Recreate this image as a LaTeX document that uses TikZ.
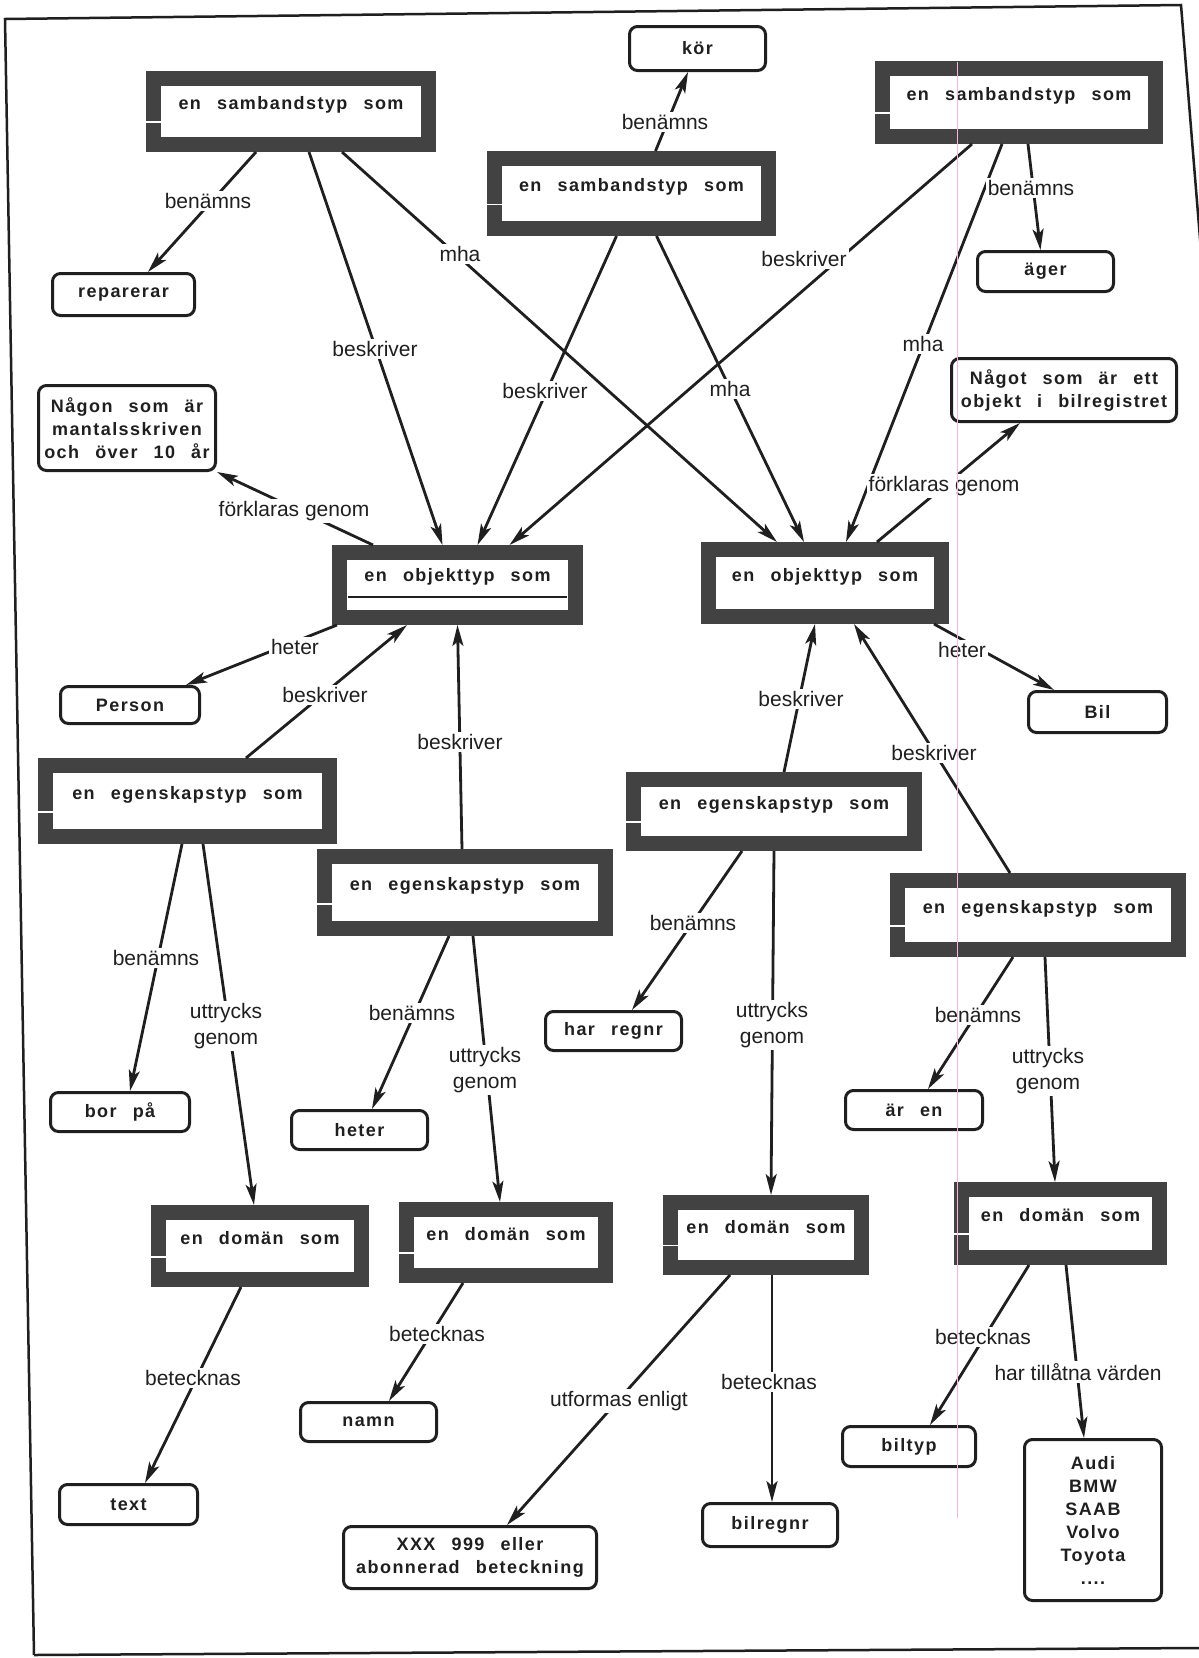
\documentclass[tikz,border=0pt]{standalone}
\usepackage{fontspec}
\setmainfont{Liberation Sans}
\newfontfamily\boxfont[LetterSpace=8,WordSpace=2.5]{Liberation Sans}
\usetikzlibrary{arrows.meta,calc}
\definecolor{framegray}{gray}{0.26}
\definecolor{ink}{gray}{0.12}

\begin{document}
\begin{tikzpicture}[x=1pt,y=-1pt,
  tbox/.style={draw=framegray, line width=15pt, fill=white, inner sep=0pt,
    font=\boxfont\bfseries\fontsize{18}{22}\selectfont, text=ink,
    text height=13pt, text depth=17pt},
  rbox/.style={draw=ink, line width=3pt, rounded corners=8pt, fill=white,
    inner sep=2pt, align=center, text=ink,
    font=\boxfont\bfseries\fontsize{18}{23}\selectfont},
  lbl/.style={fill=white, inner sep=2pt, align=center, text=ink,
    font=\fontsize{21}{26}\selectfont},
  conn/.style={draw=ink, line width=2.8pt},
  arr/.style={-{Stealth[length=21pt,width=11pt,inset=5pt]}}
]
\useasboundingbox (0,0) rectangle (1199,1658);
\fill[white] (0,0) rectangle (1199,1658);

% page frame
\draw[ink, line width=2.5pt] (34,1655) -- (5,19) -- (1181,5) -- (1205,300);
\draw[ink, line width=2.5pt] (34,1655) -- (1199,1648);

% type boxes with heavy frames
\node[tbox, minimum width=275pt, minimum height=66pt] (S1) at (291,111.5) {en sambandstyp som};
\node[tbox, minimum width=274pt, minimum height=70pt] (S2) at (631.5,193.5) {en sambandstyp som};
\node[tbox, minimum width=273pt, minimum height=68pt] (S3) at (1019,102.5) {en sambandstyp som};
\node[tbox, minimum width=236pt, minimum height=65pt, text depth=20pt] (O1) at (457.5,585) {en objekttyp som};
\node[tbox, minimum width=233pt, minimum height=67pt] (O2) at (825,583) {en objekttyp som};
\node[tbox, minimum width=284pt, minimum height=71pt] (E1) at (187.5,801) {en egenskapstyp som};
\node[tbox, minimum width=281pt, minimum height=72pt] (E2) at (465,892.5) {en egenskapstyp som};
\node[tbox, minimum width=281pt, minimum height=64pt] (E3) at (774,811.5) {en egenskapstyp som};
\node[tbox, minimum width=281pt, minimum height=69pt] (E4) at (1038,915) {en egenskapstyp som};
\node[tbox, minimum width=203pt, minimum height=67pt] (D1) at (260,1246) {en domän som};
\node[tbox, minimum width=199pt, minimum height=66pt] (D2) at (506,1242.5) {en domän som};
\node[tbox, minimum width=191pt, minimum height=65pt] (D3) at (766,1235) {en domän som};
\node[tbox, minimum width=198pt, minimum height=68pt] (D4) at (1060.5,1223.5) {en domän som};

% divider inside the left object type box
\draw[ink, line width=1.5pt] ($(O1.west)+(16,12)$) -- ($(O1.east)+(-16,12)$);
% small notches in the left side of the heavy frames
\foreach \n in {S1,S2,S3,E1,E2,E3,E4,D1,D2,D3,D4}
  \draw[white, line width=1.8pt] ($(\n.north west)!0.63!(\n.south west)$) -- ++(15,0);

% value boxes
\node[rbox, minimum width=136pt, minimum height=44pt] (kor) at (697.5,48.5) {kör};
\node[rbox, minimum width=142pt, minimum height=42pt] (rep) at (123.5,294.5) {reparerar};
\node[rbox, minimum width=177pt, minimum height=85pt, inner sep=0pt] (nagon) at (127,428) {Någon som är\\mantalsskriven\\och över 10 år};
\node[rbox, minimum width=136pt, minimum height=40pt] (ager) at (1045.5,271.5) {äger};
\node[rbox, minimum width=225pt, minimum height=63pt] (nagot) at (1064,390) {Något som är ett\\objekt i bilregistret};
\node[rbox, minimum width=139pt, minimum height=37pt] (person) at (130,705) {Person};
\node[rbox, minimum width=138pt, minimum height=41pt] (bil) at (1097.5,712) {Bil};
\node[rbox, minimum width=139pt, minimum height=39pt] (borpa) at (120,1112) {bor på};
\node[rbox, minimum width=136pt, minimum height=39pt] (heter) at (359.5,1130) {heter};
\node[rbox, minimum width=136pt, minimum height=39pt] (regnr) at (613.5,1031) {har regnr};
\node[rbox, minimum width=137pt, minimum height=39pt] (aren) at (914,1110) {är en};
\node[rbox, minimum width=138pt, minimum height=40pt] (text) at (128.5,1504.5) {text};
\node[rbox, minimum width=136pt, minimum height=39pt] (namn) at (368.5,1422) {namn};
\node[rbox, minimum width=253pt, minimum height=62pt] (xxx) at (470,1557.5) {XXX 999 eller\\abonnerad beteckning};
\node[rbox, minimum width=135pt, minimum height=43pt] (bilregnr) at (770,1525) {bilregnr};
\node[rbox, minimum width=133pt, minimum height=40pt] (biltyp) at (909,1446.5) {biltyp};
\node[rbox, minimum width=137pt, minimum height=161pt] (marken) at (1093,1520) {Audi\\BMW\\SAAB\\Volvo\\Toyota\\....};

% connectors
\draw[conn,arr] ([xshift=24pt]S2.north) -- ([xshift=-9.5pt]kor.south);
\draw[conn,arr] ([xshift=-35pt]S1.south) -- ([xshift=24.5pt]rep.north);
\draw[conn,arr] ([xshift=18pt]S1.south) -- ([xshift=-15pt]O1.north);
\draw[conn,arr] ([xshift=51pt]S1.south) -- ([xshift=-48pt]O2.north);
\draw[conn,arr] ([xshift=-15pt]S2.south) -- ([xshift=20pt]O1.north);
\draw[conn,arr] ([xshift=25pt]S2.south) -- ([xshift=-21pt]O2.north);
\draw[conn,arr] ([xshift=-47pt]S3.south) -- ([xshift=52pt]O1.north);
\draw[conn,arr] ([xshift=-17pt]S3.south) -- ([xshift=21pt]O2.north);
\draw[conn,arr] ([xshift=9pt]S3.south) -- ([xshift=-5pt]ager.north);
\draw[conn,arr] ([xshift=41pt]O1.north west) -- (nagon.south east);
\draw[conn,arr] ([xshift=52pt]O2.north) -- ([xshift=-44pt]nagot.south);
\draw[conn,arr] ([xshift=5pt]O1.south west) -- ([xshift=56pt]person.north);
\draw[conn,arr] ([xshift=58.5pt]E1.north) -- ([xshift=-50.5pt]O1.south);
\draw[conn,arr] ([xshift=-3pt]E2.north) -- (O1.south);
\draw[conn,arr] ([xshift=-15pt]O2.south east) -- ([xshift=-43.5pt]bil.north);
\draw[conn,arr] ([xshift=10pt]E3.north) -- ([xshift=-10pt]O2.south);
\draw[conn,arr] ([xshift=-28pt]E4.north) -- ([xshift=29pt]O2.south);
\draw[conn,arr] ([xshift=-5.5pt]E1.south) -- ([xshift=10pt]borpa.north);
\draw[conn,arr] ([xshift=15.5pt]E1.south) -- ([xshift=-6pt]D1.north);
\draw[conn,arr] ([xshift=-16pt]E2.south) -- ([xshift=12.5pt]heter.north);
\draw[conn,arr] ([xshift=8pt]E2.south) -- ([xshift=-6pt]D2.north);
\draw[conn,arr] ([xshift=-32pt]E3.south) -- ([xshift=18.5pt]regnr.north);
\draw[conn,arr] (E3.south) -- ([xshift=5pt]D3.north);
\draw[conn,arr] ([xshift=-25pt]E4.south) -- ([xshift=14pt]aren.north);
\draw[conn,arr] ([xshift=7pt]E4.south) -- ([xshift=-5.5pt]D4.north);
\draw[conn,arr] ([xshift=-19pt]D1.south) -- ([xshift=16.5pt]text.north);
\draw[conn,arr] ([xshift=-43pt]D2.south) -- ([xshift=20.5pt]namn.north);
\draw[conn,arr] ([xshift=-36pt]D3.south) -- ([xshift=37pt]xxx.north);
\draw[conn,arr] ([xshift=6pt]D3.south) -- ([xshift=2pt]bilregnr.north);
\draw[conn,arr] ([xshift=-31.5pt]D4.south) -- ([xshift=21pt]biltyp.north);
\draw[conn,arr] ([xshift=5.5pt]D4.south) -- ([xshift=-9pt]marken.north);

% connector labels
\node[lbl] (lkor) at (665,122) {benämns};
\node[lbl] (lrep) at (208,201) {benämns};
\node[lbl] (la) at (375,349) {beskriver};
\node[lbl] (lb) at (460,254) {mha};
\node[lbl] (lc) at (545,391) {beskriver};
\node[lbl] (ld) at (730,389) {mha};
\node[lbl] (le) at (804,259) {beskriver};
\node[lbl] (lf) at (1031,188) {benämns};
\node[lbl] (lg) at (923,344) {mha};
\node[lbl] (lh) at (294,511) {förklaras genom};
\node[lbl] (li) at (944,486) {förklaras genom};
\node[lbl] (lj) at (295,647) {heter};
\node[lbl] (lk) at (325,695) {beskriver};
\node[lbl] (ll) at (460,742) {beskriver};
\node[lbl] (lm) at (962,650) {heter};
\node[lbl] (ln) at (801,699) {beskriver};
\node[lbl] (lo) at (934,753) {beskriver};
\node[lbl] (lp) at (156,958) {benämns};
\node[lbl] (lq) at (226,1026) {uttrycks\\genom};
\node[lbl] (lr) at (412,1013) {benämns};
\node[lbl] (ls) at (485,1070) {uttrycks\\genom};
\node[lbl] (lt) at (693,923) {benämns};
\node[lbl] (lu) at (772,1025) {uttrycks\\genom};
\node[lbl] (lv) at (978,1015) {benämns};
\node[lbl] (lw) at (1048,1071) {uttrycks\\genom};
\node[lbl] (lx) at (193,1378) {betecknas};
\node[lbl] (ly) at (437,1334) {betecknas};
\node[lbl] (lz) at (619,1401) {utformas enligt};
\node[lbl] (laa) at (769,1382) {betecknas};
\node[lbl] (lbb) at (983,1337) {betecknas};
\node[lbl] (lcc) at (1078,1372) {har tillåtna värden};

% faint vertical trace
\draw[magenta!30, line width=1pt] (957,62) -- (957,1518);
\end{tikzpicture}
\end{document}
